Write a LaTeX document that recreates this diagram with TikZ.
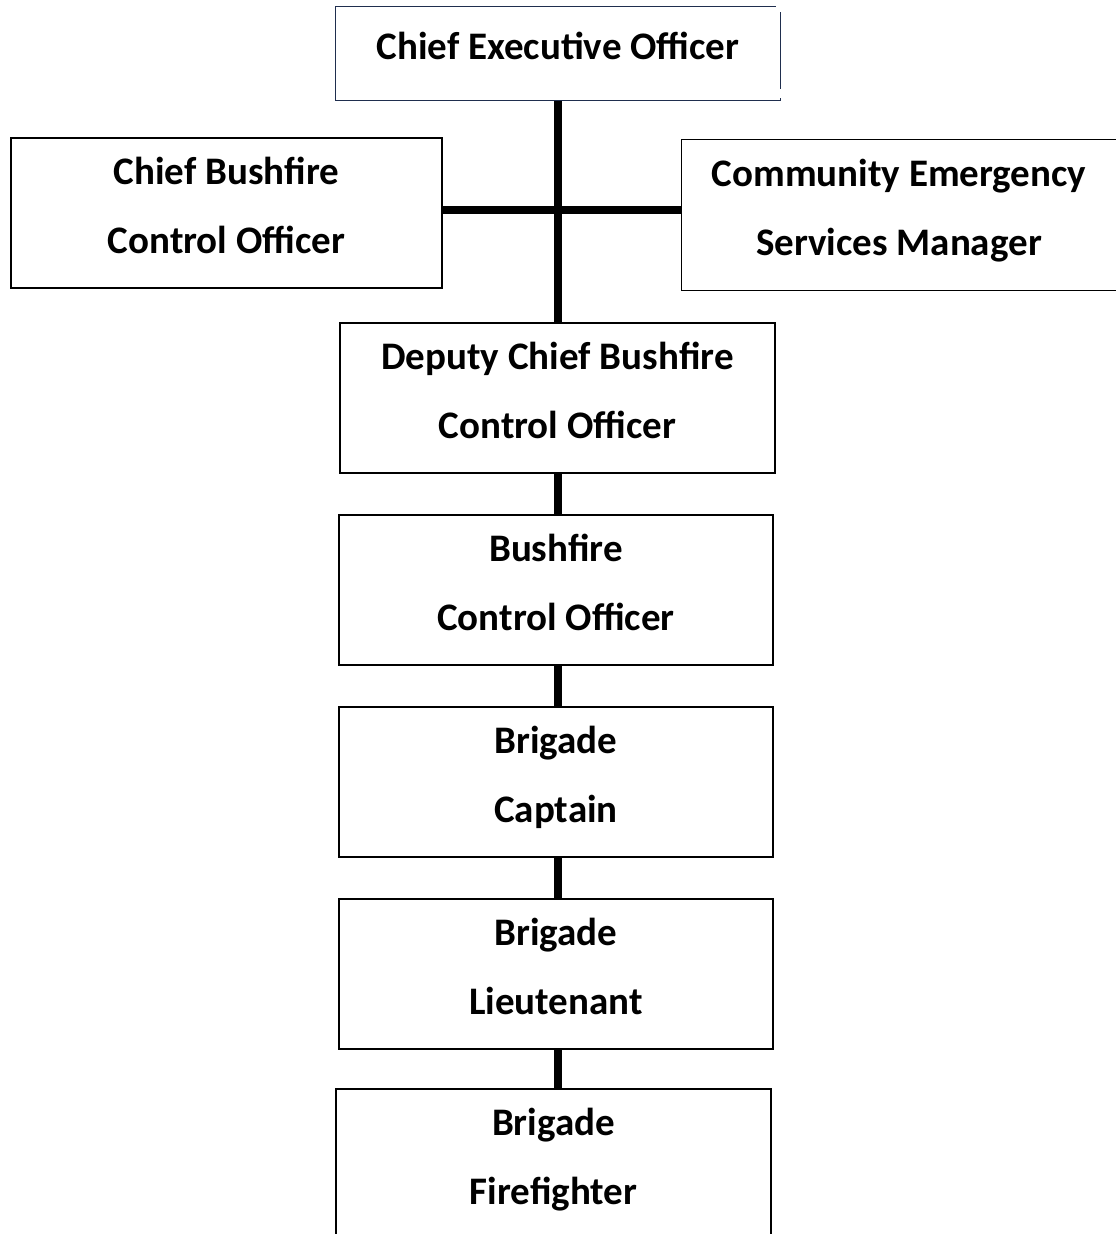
\documentclass[tikz,border=0pt]{standalone}
\usepackage{fontspec}
\setmainfont{Carlito}
\definecolor{navyline}{HTML}{1F2E4E}
\begin{document}
\begin{tikzpicture}[x=1pt,y=-1pt,
  box/.style={draw=black, line width=1.4pt, fill=white, align=center,
    minimum width=434pt, minimum height=150pt, inner sep=0pt,
    font=\fontsize{39}{69}\selectfont\bfseries},
  link/.style={line width=8pt, black}]
\useasboundingbox (0,0) rectangle (1116,1234);
\clip (0,0) rectangle (1116,1234);

% chief executive officer: box drawn with a separate outline
\node[box, draw=none, fill=none, minimum width=444pt, minimum height=93pt,
      text depth=16pt] (ceo) at (558,53.5) {Chief Executive Officer};
\draw[navyline, line width=1.4pt]
  ([xshift=-5pt]ceo.north east) -- (ceo.north west) -- (ceo.south west)
  -- (ceo.south east) -- ([yshift=3pt]ceo.south east);
\draw[navyline, line width=1.4pt]
  ([yshift=-6pt]ceo.north east) -- ([yshift=12pt]ceo.south east);

\coordinate (cross) at (558,210);

\node[box, minimum width=431pt, text depth=15pt] (cbco) at (226.5,213) {Chief Bushfire\\Control Officer};
% this box runs off the right edge: outline drawn on three sides only
\node[box, draw=none, text depth=15pt] (cesm) at (899,215) {Community Emergency\\Services Manager};
\draw[line width=1.4pt] ([xshift=4pt]cesm.north east) -- (cesm.north west)
  -- (cesm.south west) -- ([xshift=4pt]cesm.south east);
\node[box, minimum width=435pt, text depth=15pt] (dep) at (557.5,398) {Deputy Chief Bushfire\\Control Officer};
\node[box, text depth=15pt] (bco) at (556,590) {Bushfire\\Control Officer};
\node[box, text depth=15pt] (cap) at (556,782) {Brigade\\Captain};
\node[box, text depth=15pt] (lt) at (556,974) {Brigade\\Lieutenant};
\node[box, minimum width=435pt, text depth=15pt] (ff) at (553.5,1164) {Brigade\\Firefighter};

% reporting lines
\draw[link] (ceo.south -| cross) -- (dep.north -| cross);
\draw[link] (cbco.east |- cross) -- (cesm.west |- cross);
\draw[link] (dep.south -| cross) -- (bco.north -| cross);
\draw[link] (bco.south -| cross) -- (cap.north -| cross);
\draw[link] (cap.south -| cross) -- (lt.north -| cross);
\draw[link] (lt.south -| cross) -- (ff.north -| cross);
\end{tikzpicture}
\end{document}
